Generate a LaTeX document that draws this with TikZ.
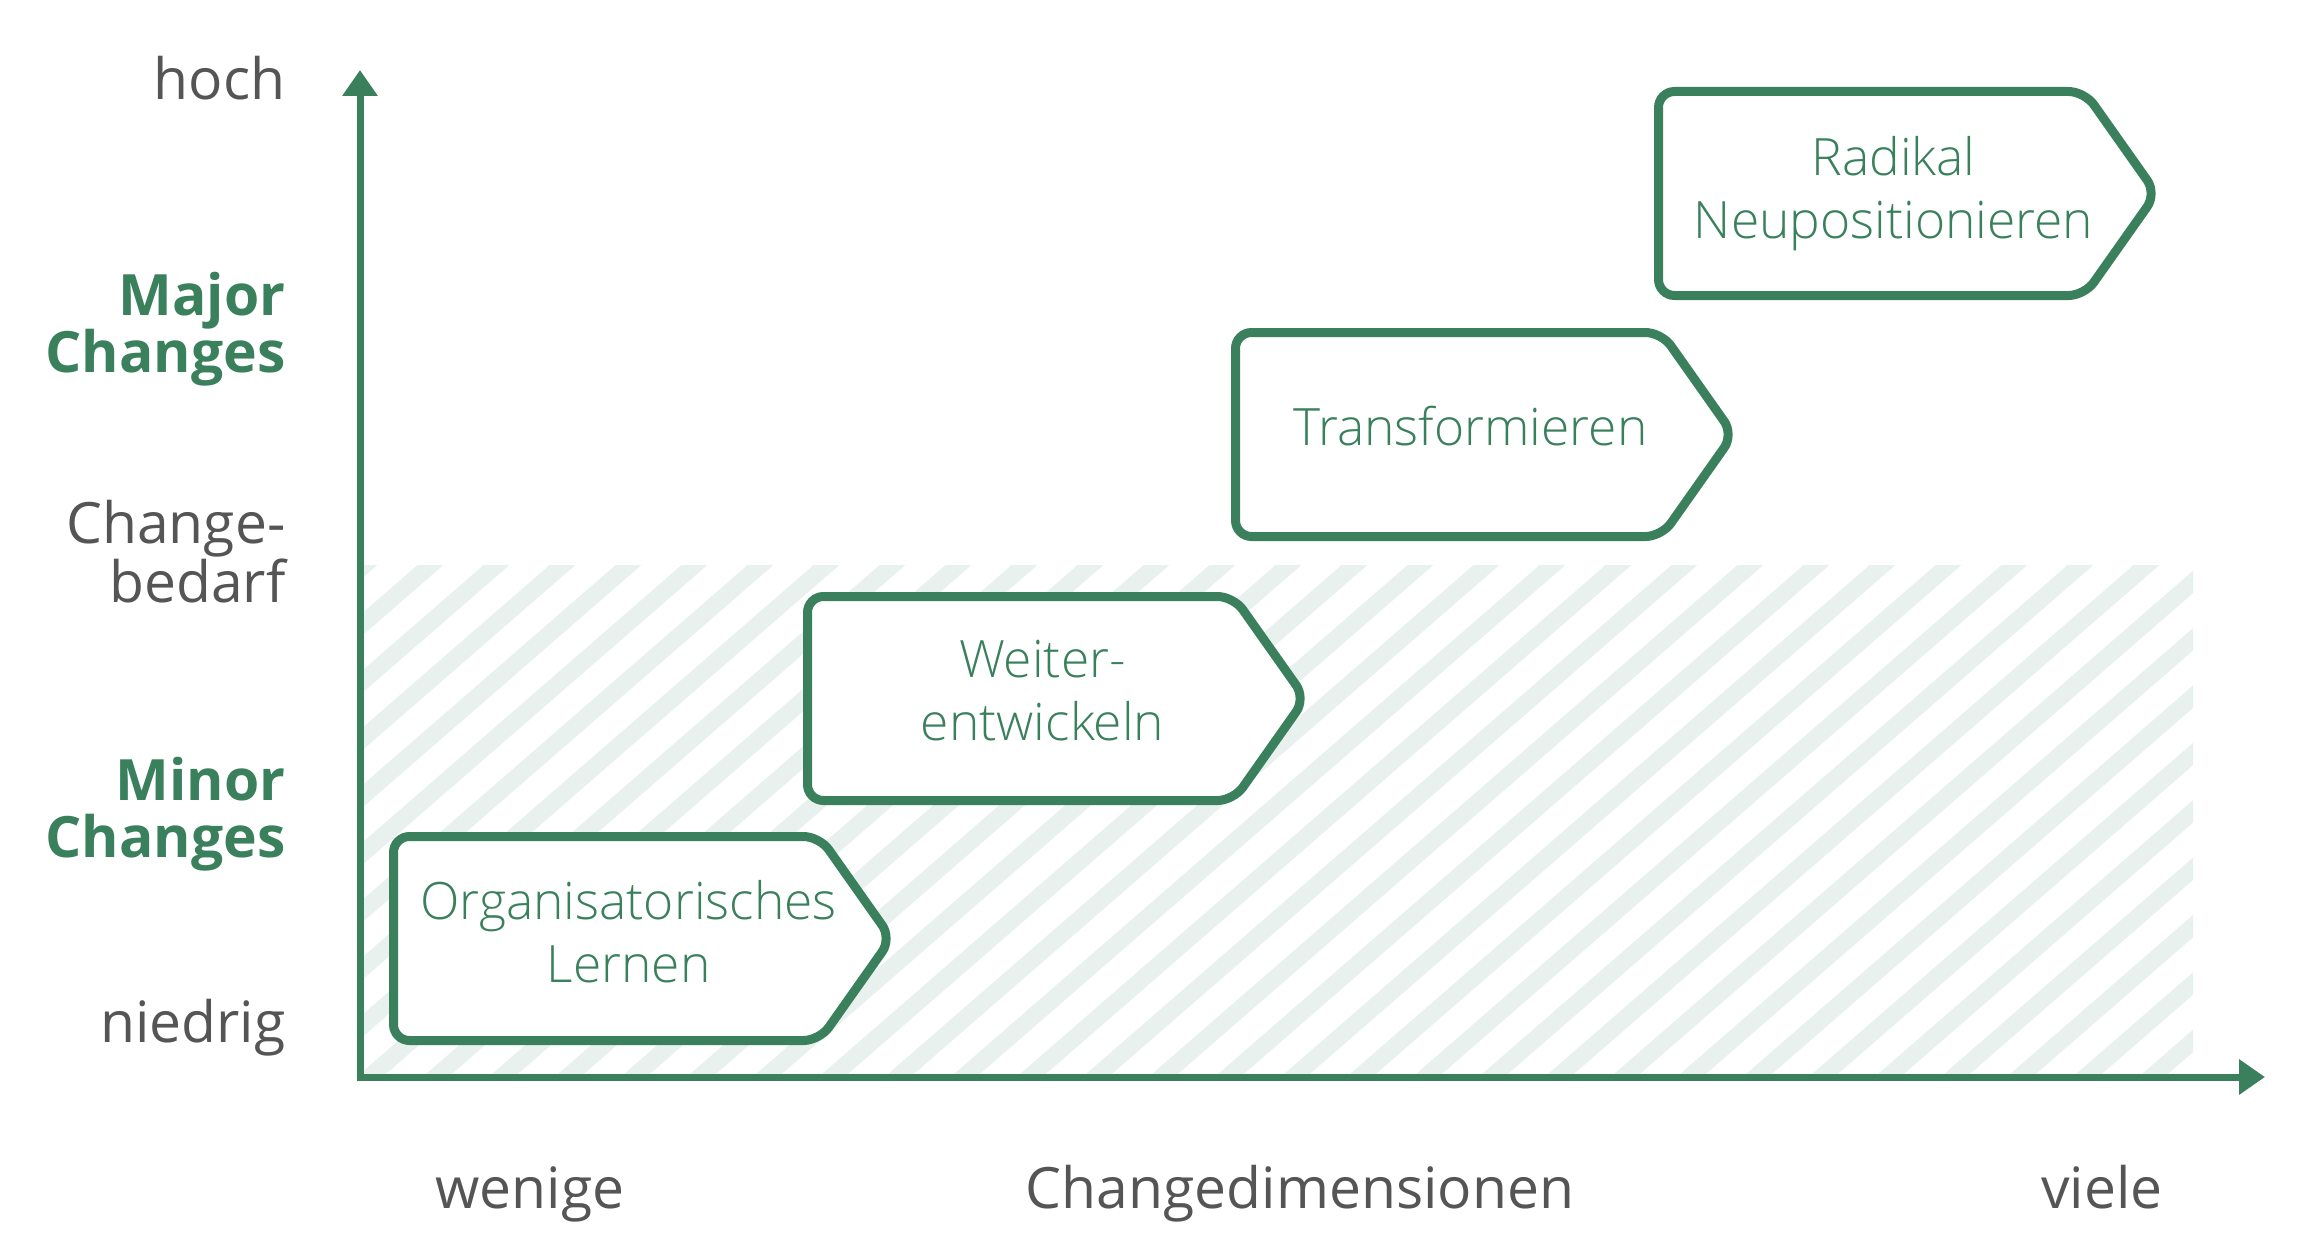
\documentclass[tikz,border=0pt]{standalone}
\usepackage{fontspec}
\setmainfont{Open Sans}
\IfFontExistsTF{Open Sans Light}
  {\newfontfamily\boxfont{Open Sans Light}}
  {\newfontfamily\boxfont{Open Sans}}
\usetikzlibrary{arrows.meta}

\definecolor{chgreen}{HTML}{3A805D}
\definecolor{chgrey}{HTML}{555555}
\definecolor{chhatch}{HTML}{E9F1EE}

\tikzset{
  axis/.style={chgreen, line width=7pt,
    {Triangle[length=26pt,width=34pt]}-{Triangle[length=26pt,width=34pt]}},
  hatchline/.style={chhatch, line width=17pt},
  stepbox/.style={draw=chgreen, fill=white, line width=9pt, rounded corners=16pt},
  boxtext/.style={chgreen, font=\boxfont\fontsize{51.5}{63}\selectfont, align=center},
  level/.style={chgrey, font=\fontsize{57}{57}\selectfont, align=right, anchor=base east},
  levelbold/.style={level, chgreen, font=\bfseries\fontsize{57}{57}\selectfont},
  dimlabel/.style={chgrey, font=\fontsize{57}{57}\selectfont, anchor=base}
}

\begin{document}
\begin{tikzpicture}[x=1pt,y=-1pt]
\useasboundingbox (0,0) rectangle (2310,1252);

% hatched zone of minor changes
\begin{scope}
  \clip (360,565) rectangle (2193,1074);
  \foreach \i in {-6,...,34}
    \draw[hatchline] (\i*66+36,1080) -- ++(1200,-1043);
\end{scope}

% axes
\coordinate (O) at (360,1077);
\coordinate (Ytip) at (360,70);
\coordinate (Xtip) at (2265,1077);
\draw[axis] (Ytip) -- (O) -- (Xtip);

% levels (base = last line)
\node[level] (hoch) at (289,100) {hoch};
\node[levelbold] (major) at (289,372) {Major\\Changes};
\node[level] (bedarf) at (289,602) {Change-\\bedarf};
\node[levelbold] (minor) at (289,857) {Minor\\Changes};
\node[level] (niedrig) at (289,1042) {niedrig};

% dimensions
\node[dimlabel] (wenige) at (530,1208) {wenige};
\node[dimlabel] (dim) at (1300,1208) {Changedimensionen};
\node[dimlabel] (viele) at (2102,1208) {viele};

% steps
\begin{scope}[shift={(393.5,836.5)}]
  \draw[stepbox] (0,0) -- (426,0) -- (498,102) -- (426,204) -- (0,204) -- cycle;
  \node[boxtext] (lernen) at (235,95) {Organisatorisches\\Lernen};
\end{scope}

\begin{scope}[shift={(807.5,596.5)}]
  \draw[stepbox] (0,0) -- (426,0) -- (498,102) -- (426,204) -- (0,204) -- cycle;
  \node[boxtext] (weiter) at (235,94.5) {Weiter-\\entwickeln};
\end{scope}

\begin{scope}[shift={(1235.5,332.5)}]
  \draw[stepbox] (0,0) -- (426,0) -- (498,102) -- (426,204) -- (0,204) -- cycle;
  \node[boxtext] (trans) at (235,93.5) {Transformieren};
\end{scope}

\begin{scope}[shift={(1658.5,91.5)}]
  \draw[stepbox] (0,0) -- (426,0) -- (498,102) -- (426,204) -- (0,204) -- cycle;
  \node[boxtext] (radikal) at (235,102) {Radikal\\Neupositionieren};
\end{scope}
\end{tikzpicture}
\end{document}
